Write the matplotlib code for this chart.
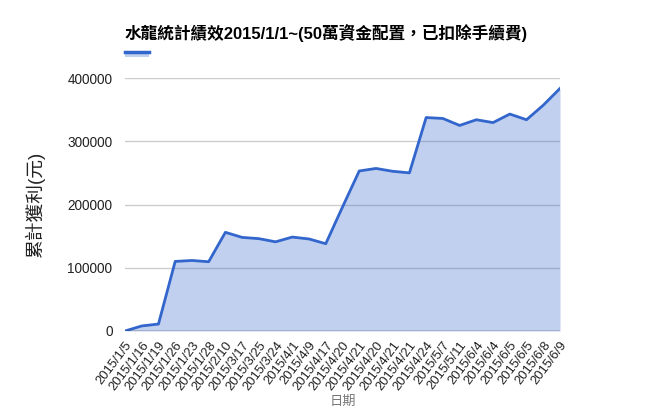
import matplotlib
matplotlib.use("Agg")
import matplotlib.pyplot as plt
from matplotlib.patches import Rectangle
from matplotlib.lines import Line2D

plt.rcParams['font.family'] = ['Liberation Sans', 'Noto Sans CJK TC', 'DejaVu Sans']

dates = ["2015/1/5", "2015/1/16", "2015/1/19", "2015/1/26", "2015/1/23", "2015/1/28",
         "2015/2/10", "2015/3/17", "2015/3/25", "2015/3/24", "2015/4/1", "2015/4/9",
         "2015/4/17", "2015/4/20", "2015/4/21", "2015/4/20", "2015/4/21", "2015/4/21",
         "2015/4/24", "2015/5/7", "2015/5/11", "2015/6/4", "2015/6/4", "2015/6/5",
         "2015/6/5", "2015/6/8", "2015/6/9"]
profit = [0, 8000, 11000, 110000, 111500, 109500,
          156000, 148000, 146000, 141000, 148500, 145500,
          138000, 196000, 253000, 257000, 252500, 250000,
          337500, 336000, 325000, 334000, 329500, 343000,
          334000, 357000, 383500]
y_ticks = [0, 100000, 200000, 300000, 400000]

title = "水龍統計績效2015/1/1~(50萬資金配置，已扣除手續費)"
y_title = "累計獲利(元)"
x_title = "日期"

line_color = "#3366CC"
fill_color = "#3366CC"

fig = plt.figure(figsize=(6.72, 4.08), dpi=100)
ax = fig.add_axes([125 / 672, 77 / 408, 435 / 672, 253 / 408])

x = list(range(len(dates)))
for t in y_ticks[1:]:
    ax.axhline(t, color="#cccccc", lw=1, zorder=1)
ax.fill_between(x, profit, 0, color=fill_color, alpha=0.3, lw=0, zorder=2)
ax.plot(x, profit, color=line_color, lw=2, zorder=3, solid_joinstyle='round')
ax.axhline(0, color="#333333", lw=1, zorder=4)

ax.set_xlim(0, len(dates) - 1)
ax.set_ylim(0, 400000)
ax.set_yticks(y_ticks)
ax.set_yticklabels([str(t) for t in y_ticks], fontsize=9.8, color="#222222")
ax.set_xticks(x)
ax.set_xticklabels(dates, rotation=53, ha='right', va='top', rotation_mode='anchor',
                   fontsize=9.4, color="#222222")
ax.tick_params(axis='both', length=0)
ax.tick_params(axis='y', pad=9)
ax.tick_params(axis='x', pad=6)
for s in ax.spines.values():
    s.set_visible(False)

ax.set_ylabel(y_title, fontsize=13.5, color="#222222", labelpad=16)
ax.set_xlabel(x_title, fontsize=9.5, color="#777777", style='italic', labelpad=2)

fig.text(125 / 672, 1 - 33 / 408, title, fontsize=12, fontweight='bold',
         color="#000000", va='center', ha='left')

# legend swatch: line over a light band
fig.patches.append(Rectangle((125 / 672, 1 - 57 / 408), 24 / 672, 5 / 408,
                             transform=fig.transFigure, facecolor=fill_color,
                             alpha=0.3, lw=0))
fig.lines.append(Line2D([125 / 672, 149 / 672], [1 - 51.5 / 408, 1 - 51.5 / 408],
                        transform=fig.transFigure, color=line_color, lw=2.5))

fig.savefig("out.png", dpi=100)
